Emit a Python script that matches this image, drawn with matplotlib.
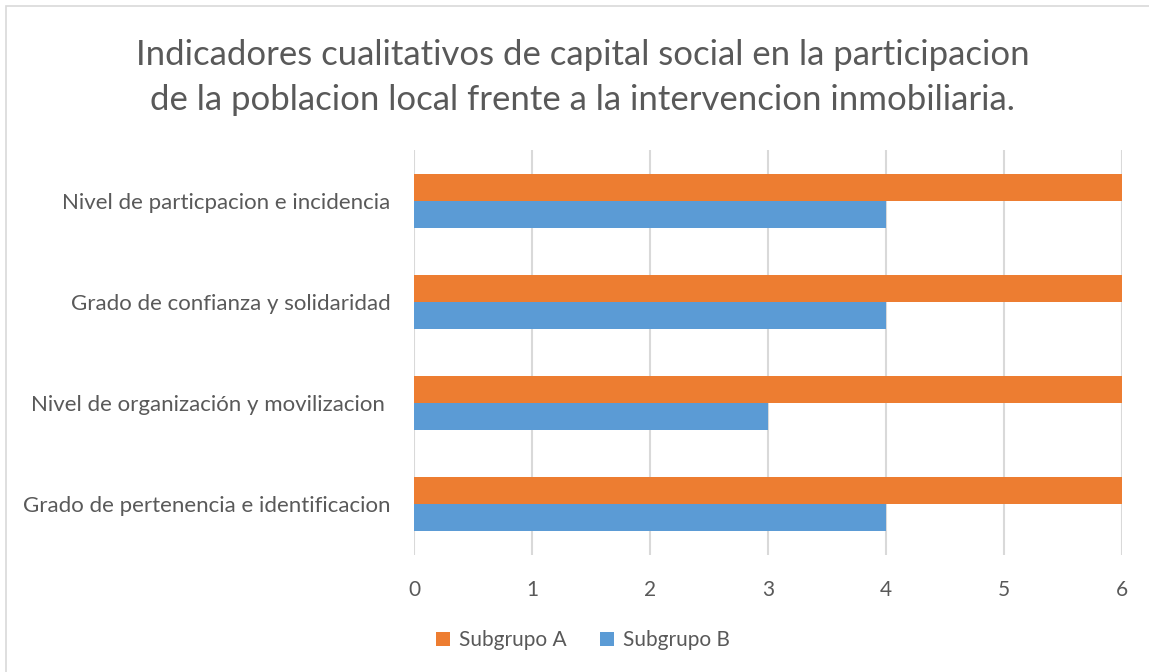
import numpy as np
import matplotlib.pyplot as plt
from matplotlib.patches import Rectangle

plt.rcParams['font.family'] = ['Lato', 'DejaVu Sans']

categorias = ["Grado de pertenencia e identificacion",
              "Nivel de organización y movilizacion ",
              "Grado de confianza y solidaridad",
              "Nivel de particpacion e incidencia"]
subgrupo_a = [6, 6, 6, 6]
subgrupo_b = [4, 3, 4, 4]
ticks_x = [0, 1, 2, 3, 4, 5, 6]

naranja = "#ED7D31"
azul = "#5B9BD5"
gris = "#595959"

fig = plt.figure(figsize=(11.49, 6.72), dpi=100)
ax = fig.add_axes([0.3603, 0.174, 0.9765 - 0.3603, 0.7768 - 0.174])

# borde del grafico
fig.patches.append(Rectangle((6 / 1149, -0.01), 1.02, 1 - 6 / 672 + 0.01, transform=fig.transFigure,
                             fill=False, edgecolor="#D9D9D9", linewidth=1.2))

y = np.arange(len(categorias))
h = 0.267
ax.barh(y + h / 2, subgrupo_a, height=h, color=naranja, label="Subgrupo A", zorder=3)
ax.barh(y - h / 2, subgrupo_b, height=h, color=azul, label="Subgrupo B", zorder=3)

ax.set_xlim(0, 6)
ax.set_ylim(-0.5, len(categorias) - 0.5)
ax.set_xticks(ticks_x)
ax.set_xticklabels([str(t) for t in ticks_x], fontsize=15, color=gris)
ax.set_yticks(y)
ax.set_yticklabels(categorias, fontsize=16, color=gris)
ax.tick_params(axis="both", length=0)
ax.tick_params(axis="x", pad=18)
ax.tick_params(axis="y", pad=17)
ax.grid(axis="x", color="#D9D9D9", linewidth=1.5, zorder=0)
for s in ax.spines.values():
    s.set_visible(False)

fig.text(0.507, 0.885, "Indicadores cualitativos de capital social en la participacion\n"
         "de la poblacion local frente a la intervencion inmobiliaria.",
         ha="center", va="center", fontsize=25, color=gris, linespacing=1.5)

leg = fig.legend(loc="center", bbox_to_anchor=(0.507, 0.047), ncol=2, frameon=False,
                 fontsize=15, handlelength=0.7, handleheight=0.7, handletextpad=0.4,
                 columnspacing=1.6)
for t in leg.get_texts():
    t.set_color(gris)

fig.savefig("out.png", dpi=100)
